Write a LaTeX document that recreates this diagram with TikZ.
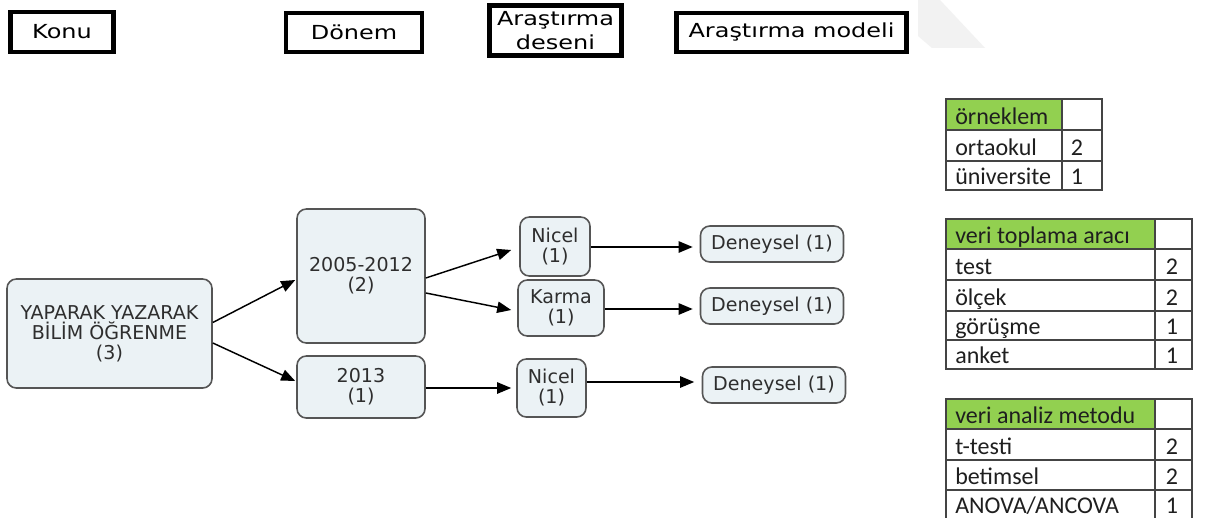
\documentclass[tikz,border=0pt]{standalone}
\usepackage{fontspec}
\setmainfont{DejaVu Sans}
\newfontfamily\hdrfont[FakeStretch=1.24]{DejaVu Sans}
\newfontfamily\tblfont{Carlito}
\usetikzlibrary{arrows.meta,calc}
\definecolor{nodefill}{HTML}{EBF2F5}
\definecolor{nodeline}{HTML}{555555}
\definecolor{nodetext}{HTML}{2E2E2E}
\definecolor{hdrgreen}{HTML}{92D050}
\definecolor{gridline}{HTML}{444444}
\definecolor{wmgrey}{HTML}{F2F2F2}
\begin{document}
\begin{tikzpicture}[x=0.75pt,y=-0.75pt,
  hdrbox/.style={draw=black, line width=3.5pt, inner sep=0pt, align=center,
    font=\hdrfont\fontsize{14.5}{18.5}\selectfont},
  concept/.style={draw=nodeline, fill=nodefill, line width=1.2pt, rounded corners=7pt,
    inner sep=0pt, align=center, text=nodetext, font=\fontsize{14.3}{15}\selectfont},
  arr/.style={-{Triangle[length=10.5pt,width=8.5pt]}, line width=1.1pt, black},
  cellbox/.style={draw=gridline, line width=1.1pt},
  celltext/.style={font=\tblfont\fontsize{18}{20}\selectfont, text=black!88, inner sep=0pt, anchor=base west},
  cellnum/.style={font=\tblfont\fontsize{18}{20}\selectfont, text=black!88, inner sep=0pt, anchor=base},
]
\useasboundingbox (0,0) rectangle (1205,517);
\fill[white] (0,0) rectangle (1205,517);
% faint watermark fragment
\fill[wmgrey] (918,0) -- (940,0) -- (985,48) -- (932,48) -- (918,36) -- cycle;

% header boxes
\node[hdrbox, minimum width=103*0.75pt, minimum height=40*0.75pt] (hkonu) at (62,32) {Konu};
\node[hdrbox, minimum width=136*0.75pt, minimum height=39*0.75pt] (hdonem) at (354,32.5) {Dönem};
\node[hdrbox, minimum width=132*0.75pt, minimum height=50*0.75pt] (hdesen) at (555.5,30.5) {Araştırma\\deseni};
\node[hdrbox, minimum width=230*0.75pt, minimum height=39*0.75pt] (hmodel) at (791.5,32.5) {Araştırma modeli};

% concept nodes
\node[concept, minimum width=205*0.75pt, minimum height=109*0.75pt] (yap) at (109.5,333.5) {YAPARAK YAZARAK\\BİLİM ÖĞRENME\\(3)};
\node[concept, minimum width=128*0.75pt, minimum height=134*0.75pt] (p1) at (361,276) {2005-2012\\(2)};
\node[concept, minimum width=128*0.75pt, minimum height=62*0.75pt] (p2) at (361,387) {2013\\(1)};
\node[concept, minimum width=70*0.75pt, minimum height=59*0.75pt] (d1) at (555,246.5) {Nicel\\(1)};
\node[concept, minimum width=86*0.75pt, minimum height=56*0.75pt] (d2) at (561,308) {Karma\\(1)};
\node[concept, minimum width=69*0.75pt, minimum height=58*0.75pt] (d3) at (551.5,388) {Nicel\\(1)};
\node[concept, minimum width=143*0.75pt, minimum height=36*0.75pt] (m1) at (772,244) {Deneysel (1)};
\node[concept, minimum width=143*0.75pt, minimum height=36*0.75pt] (m2) at (772,306) {Deneysel (1)};
\node[concept, minimum width=143*0.75pt, minimum height=36*0.75pt] (m3) at (774,385) {Deneysel (1)};

% connectors
\draw[arr] ($(yap.east)+(0,-11)$) -- ($(p1.west)+(-1,4)$);
\draw[arr] ($(yap.east)+(0,9.5)$) -- ($(p2.west)+(-1,-6)$);
\draw[arr] ($(p1.east)+(0,2)$) -- ($(d1.west)+(-8,3.5)$);
\draw[arr] ($(p1.east)+(0,17)$) -- ($(d2.west)+(-6,2)$);
\draw[arr] ($(p2.east)+(0,1)$) -- ($(d3.west)+(-5,0)$);
\draw[arr] ($(d1.east)+(0,0.5)$) -- ($(m1.west)+(-7,3)$);
\draw[arr] ($(d2.east)+(0,1)$) -- ($(m2.west)+(-7,3)$);
\draw[arr] ($(d3.east)+(0,-6)$) -- ($(m3.west)+(-7.5,-3)$);

% table 1
\fill[hdrgreen] (946,99) rectangle (1062,130);
\draw[cellbox] (946,99) rectangle (1102,190);
\draw[cellbox] (946,130) -- (1102,130) (946,161) -- (1102,161) (1062,99) -- (1062,190);
\node[celltext] (t1h) at (955,124) {örneklem};
\node[celltext] (t1a) at (955,155) {ortaokul};
\node[cellnum] (t1an) at (1077,155) {2};
\node[celltext] (t1b) at (955,184) {üniversite};
\node[cellnum] (t1bn) at (1077,184) {1};

% table 2
\fill[hdrgreen] (946,219) rectangle (1155,249);
\draw[cellbox] (946,219) rectangle (1192,369);
\draw[cellbox] (946,249) -- (1192,249) (946,280) -- (1192,280) (946,311) -- (1192,311)
  (946,340) -- (1192,340) (1155,219) -- (1155,369);
\node[celltext] (t2h) at (955,243) {veri toplama aracı};
\node[celltext] (t2a) at (955,274) {test};
\node[cellnum] (t2an) at (1172,274) {2};
\node[celltext] (t2b) at (955,305) {ölçek};
\node[cellnum] (t2bn) at (1172,305) {2};
\node[celltext] (t2c) at (955,334) {görüşme};
\node[cellnum] (t2cn) at (1172,334) {1};
\node[celltext] (t2d) at (955,363) {anket};
\node[cellnum] (t2dn) at (1172,363) {1};

% table 3
\fill[hdrgreen] (946,399) rectangle (1155,429);
\draw[cellbox] (946,520) -- (946,399) -- (1192,399) -- (1192,520);
\draw[cellbox] (946,429) -- (1192,429) (946,460) -- (1192,460) (946,490) -- (1192,490)
  (1155,399) -- (1155,520);
\node[celltext] (t3h) at (955,423) {veri analiz metodu};
\node[celltext] (t3a) at (955,454) {t-testi};
\node[cellnum] (t3an) at (1172,454) {2};
\node[celltext] (t3b) at (955,484) {betimsel};
\node[cellnum] (t3bn) at (1172,484) {2};
\node[celltext] (t3c) at (955,513) {ANOVA/ANCOVA};
\node[cellnum] (t3cn) at (1172,513) {1};
\end{tikzpicture}
\end{document}
